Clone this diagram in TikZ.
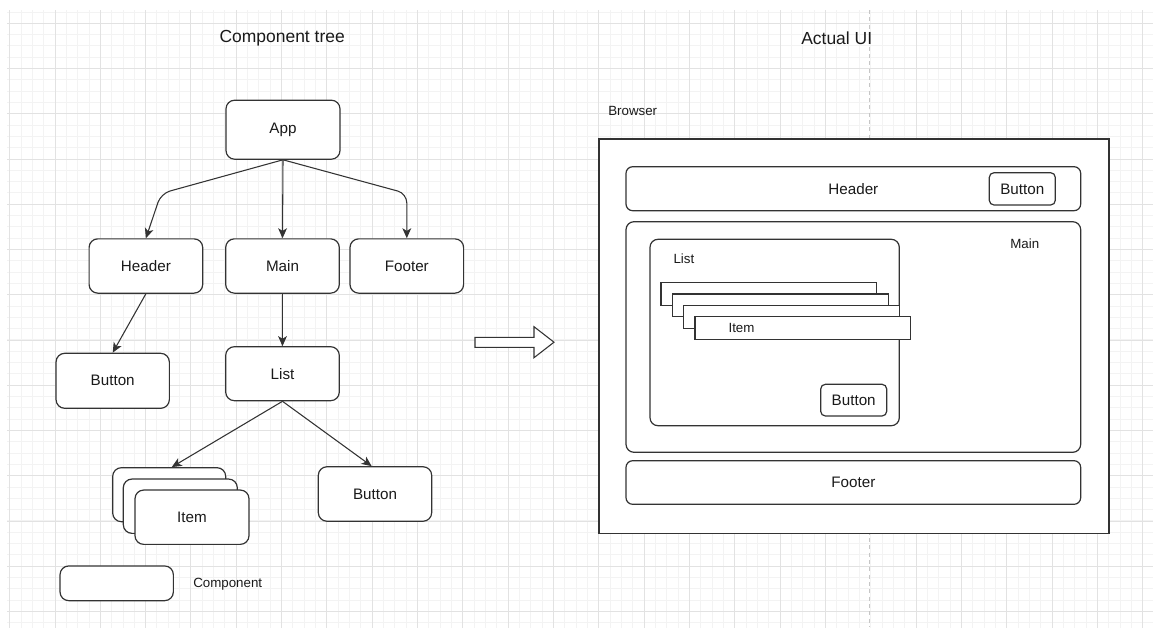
\documentclass[tikz,border=0pt]{standalone}
\usepackage{fontspec}
\setmainfont{Liberation Sans}
\usetikzlibrary{arrows.meta,fit}

\definecolor{ink}{HTML}{333333}
\definecolor{txt}{HTML}{1A1A1A}
\definecolor{gridminor}{HTML}{F3F3F3}
\definecolor{gridmajor}{HTML}{E2E2E2}
\definecolor{pageline}{HTML}{C6C6C6}

\newcommand\fReg{\fontsize{11.4}{13.7}\selectfont}
\newcommand\fSmall{\fontsize{10}{12}\selectfont}
\newcommand\fTitle{\fontsize{13.1}{15.7}\selectfont}

\begin{document}
\begin{tikzpicture}[x=0.75pt,y=-0.75pt,
  sz/.style 2 args={minimum width=#1*0.75pt, minimum height=#2*0.75pt},
  box/.style={draw=ink, fill=white, line width=0.9pt, rounded corners=6.5pt,
              inner sep=0pt, text=txt, font=\fReg},
  uibox/.style={draw=ink, fill=white, line width=0.9pt, rounded corners=5pt,
                inner sep=0pt, text=txt, font=\fReg},
  bar/.style={draw=ink, fill=white, line width=0.9pt, sharp corners, inner sep=0pt},
  lbl/.style={inner sep=0pt, text=txt, font=\fSmall},
  title/.style={inner sep=0pt, text=txt, font=\fTitle},
  conn/.style={draw=ink, line width=0.8pt,
               -{Stealth[length=7.5pt, width=6.6pt, inset=2pt]}},
]
\useasboundingbox (0,0) rectangle (1153,628);

% background grid
\begin{scope}
  \clip (7,10) rectangle (1153,627);
  \foreach \i in {0,...,101}
    \draw[gridminor, line width=0.75pt] ({9.7+\i*11.33},10) -- ++(0,618);
  \foreach \j in {0,...,55}
    \draw[gridminor, line width=0.75pt] (7,{12+\j*11.31}) -- ++(1146,0);
  \foreach \k in {0,...,18,20,21,...,25}
    \draw[gridmajor, line width=0.75pt] ({9.7+\k*45.32},10) -- ++(0,618);
  \foreach \k in {0,...,13}
    \draw[gridmajor, line width=0.75pt] (7,{23.3+\k*45.25}) -- ++(1146,0);
  \draw[pageline, line width=0.9pt, dash pattern=on 3pt off 2.5pt] (869.5,10) -- (869.5,627);
\end{scope}

% titles
\node[title, anchor=west] (tTree) at (219.3,38.3) {Component tree};
\node[title, anchor=west] (tUI) at (801,38.3) {Actual UI};

% ---- component tree ----
\node[box, sz={114}{59}]   (app)  at (283,129.7) {App};
\node[box, sz={113.6}{54.3}] (hdr)  at (145.9,266) {Header};
\node[box, sz={113.6}{54.3}] (main) at (282.5,266) {Main};
\node[box, sz={113.6}{54.3}] (ftr)  at (406.8,266) {Footer};
\node[box, sz={113.3}{55}]   (btnH) at (112.7,380.8) {Button};
\node[box, sz={113.6}{54}]   (list) at (282.5,373.7) {List};
\node[box, sz={113}{54}]     (itemA) at (169.2,494.7) {};
\node[box, sz={114}{54.3}]   (itemB) at (180.3,506.2) {};
\node[box, sz={114}{54.3}]   (itemC) at (192,517.2) {Item};
\node[box, sz={113.4}{54.5}] (btnL) at (375,494) {Button};

\coordinate (wpH) at (161,193.5);
\coordinate (wpF) at (406.8,193.5);

\draw[conn, rounded corners=7pt] (app.south) -- (wpH) -- (hdr.north);
\draw[conn] (app.south) -- (main.north);
\draw[conn, rounded corners=7pt] (app.south) -- (wpF) -- (ftr.north);
\draw[conn] (hdr.south) -- (btnH.north);
\draw[conn] (main.south) -- (list.north);
\draw[conn] (list.south) -- ([xshift=1.9pt]itemA.north);
\draw[conn] (list.south) -- ([xshift=-2.5pt]btnL.north);

% legend
\node[box, sz={113.3}{34.7}] (legend) at (116.7,583.3) {};
\node[lbl, anchor=west] (legendTxt) at (193,584) {Component};

% transition arrow
\draw[draw=ink, fill=white, line width=0.8pt]
  (475,337.3) -- (534,337.3) -- (534,326.7) -- (554,342.2)
  -- (534,357.7) -- (534,347.3) -- (475,347.3) -- cycle;

% ---- actual UI ----
\node[lbl, anchor=west] (browserTxt) at (608,110.7) {Browser};
\node[bar, line width=1pt, fit={(599,139) (1109,533.3)}] (browser) {};

\node[uibox, sz={454.7}{44}] (uiHdr) at (853.35,188.7) {Header};
\node[uibox, rounded corners=3.5pt, sz={66}{32.3}] (uiHdrBtn) at (1022.3,188.85) {Button};

\node[uibox, rounded corners=6pt, fit={(626,221.7) (1080.7,452.3)}] (uiMain) {};
\node[lbl, anchor=west] (uiMainTxt) at (1010,244) {Main};

\node[uibox, rounded corners=6pt, fit={(650,239.3) (899.3,425.7)}] (uiList) {};
\node[lbl, anchor=west] (uiListTxt) at (673.3,258.3) {List};

\node[bar, fit={(661,282.3) (876.7,305.7)}] (uiItem1) {};
\node[bar, fit={(672.3,294) (888.3,316.7)}] (uiItem2) {};
\node[bar, fit={(683.7,305.3) (899.3,328.3)}] (uiItem3) {};
\node[bar, fit={(695,316.7) (910.7,339.3)}] (uiItem4) {};
\node[lbl, anchor=west] (uiItemTxt) at (728.3,327.8) {Item};

\node[uibox, rounded corners=3.5pt, sz={66}{31.7}] (uiListBtn) at (853.7,400.15) {Button};

\node[uibox, sz={454.7}{43.6}] (uiFtr) at (853.35,482.5) {Footer};
\end{tikzpicture}
\end{document}
